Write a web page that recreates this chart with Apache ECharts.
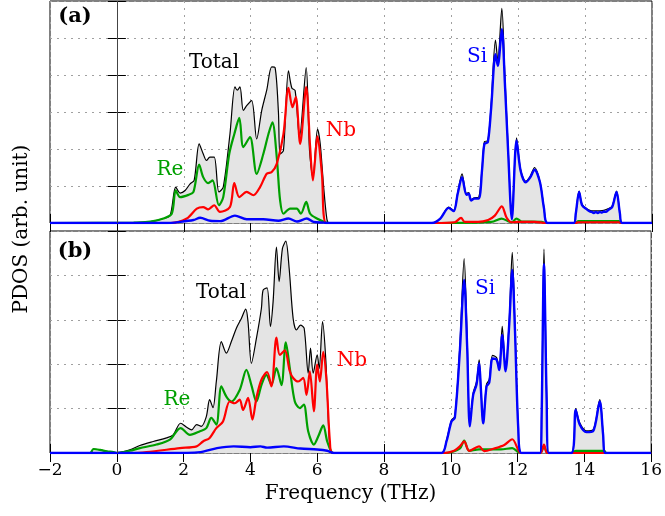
<!DOCTYPE html>
<html><head><meta charset="utf-8">
<script src="https://cdn.jsdelivr.net/npm/echarts@6/dist/echarts.min.js"></script>
<style>html,body{margin:0;padding:0;background:#fff}#c{width:665px;height:516px}</style>
</head><body><div id="c"></div>
<script>
// ---------- data (frequency THz, PDOS arb. unit) ----------
const xMin = -2, xMax = 16, xStep = 2;
const yMaxA = 6, yMaxB = 5;

// Panel (a)
const aTotal = [[-2,0],[0.3,0],[0.6,0.01],[1.0,0.04],[1.2,0.07],[1.39,0.12],[1.59,0.2],[1.76,0.97],[1.89,0.81],[2.04,0.88],[2.19,1.06],[2.31,1.15],[2.46,2.14],[2.58,1.87],[2.68,1.69],[2.78,1.78],[2.91,1.78],[3.05,0.84],[3.18,0.97],[3.38,2.4],[3.53,3.68],[3.6,3.59],[3.68,3.68],[3.78,3.04],[3.88,3.17],[4.03,3.31],[4.18,2.27],[4.33,3.04],[4.48,3.59],[4.63,4.22],[4.73,4.2],[4.83,3.0],[4.88,1.87],[4.98,1.96],[5.13,4.11],[5.23,3.65],[5.33,3.58],[5.46,2.32],[5.66,4.2],[5.76,1.96],[5.86,1.24],[6.0,2.54],[6.08,2.14],[6.18,1.0],[6.28,0.1],[6.35,0],[9.42,0],[9.67,0.12],[9.92,0.43],[10.07,0.34],[10.19,0.82],[10.32,1.33],[10.45,0.8],[10.52,0.82],[10.59,0.63],[10.69,0.68],[10.82,0.7],[10.92,1.5],[10.99,2.2],[11.09,2.22],[11.19,3.2],[11.32,4.94],[11.39,4.4],[11.51,5.8],[11.6,4.0],[11.7,2.0],[11.81,0.12],[11.95,2.3],[12.07,1.45],[12.22,1.13],[12.35,1.25],[12.49,1.5],[12.65,1.12],[12.77,0.43],[12.88,0],[13.66,0],[13.72,0.25],[13.82,0.86],[13.91,0.5],[14.06,0.38],[14.2,0.33],[14.32,0.33],[14.44,0.33],[14.56,0.34],[14.7,0.39],[14.81,0.46],[14.94,0.86],[15.04,0.28],[15.11,0],[16,0]];
const aRe = [[-2,0],[0.5,0.01],[1.0,0.04],[1.39,0.12],[1.64,0.25],[1.76,0.88],[1.89,0.7],[2.14,0.76],[2.29,0.84],[2.46,1.58],[2.58,1.24],[2.73,1.08],[2.86,1.15],[3.05,0.48],[3.18,0.7],[3.36,1.87],[3.51,2.4],[3.66,2.84],[3.78,2.05],[3.98,2.32],[4.18,1.33],[4.38,1.87],[4.53,2.4],[4.65,2.72],[4.78,1.78],[4.88,0.61],[4.98,0.25],[5.18,0.39],[5.38,0.39],[5.5,0.25],[5.66,0.57],[5.78,0.25],[5.98,0.12],[6.23,0.02],[6.35,0],[9.5,0],[11.2,0.03],[11.5,0.12],[11.7,0.05],[11.8,0.02],[11.95,0.12],[12.1,0.04],[12.7,0.03],[12.85,0],[13.7,0],[13.8,0.05],[15.0,0.05],[15.1,0],[16,0]];
const aNb = [[-2,0],[1.6,0],[2.09,0.12],[2.39,0.39],[2.58,0.43],[2.73,0.37],[2.91,0.48],[3.08,0.3],[3.38,0.43],[3.51,1.08],[3.66,0.7],[3.88,0.84],[4.08,0.75],[4.28,0.97],[4.48,1.33],[4.63,1.38],[4.78,1.6],[4.98,2.4],[5.13,3.65],[5.25,3.13],[5.35,3.4],[5.48,2.14],[5.66,3.67],[5.78,2.03],[5.86,1.15],[6.0,2.34],[6.13,1.33],[6.26,0],[9.5,0],[10.1,0.02],[10.29,0.14],[10.4,0.03],[10.8,0.03],[11.1,0.08],[11.3,0.2],[11.51,0.45],[11.65,0.15],[11.8,0.02],[12.0,0.03],[12.5,0.03],[12.8,0],[13.7,0],[13.8,0.02],[15.0,0.02],[15.1,0],[16,0]];
const aSi = [[-2,0],[1.5,0],[1.89,0.03],[2.29,0.08],[2.49,0.14],[2.79,0.06],[3.09,0.05],[3.53,0.2],[3.88,0.1],[4.38,0.1],[4.83,0.06],[5.13,0.12],[5.38,0.04],[5.68,0.12],[5.88,0.03],[6.18,0.01],[6.3,0],[9.42,0],[9.67,0.12],[9.92,0.41],[10.07,0.32],[10.19,0.79],[10.32,1.24],[10.45,0.76],[10.52,0.79],[10.59,0.61],[10.69,0.66],[10.82,0.66],[10.92,1.45],[10.99,2.14],[11.09,2.18],[11.19,3.1],[11.32,4.56],[11.39,4.25],[11.51,5.24],[11.6,3.8],[11.7,1.9],[11.81,0.1],[11.95,2.23],[12.07,1.42],[12.22,1.1],[12.35,1.22],[12.49,1.44],[12.65,1.1],[12.77,0.4],[12.88,0],[13.66,0],[13.72,0.25],[13.82,0.84],[13.91,0.48],[14.06,0.36],[14.14,0.31],[14.2,0.3],[14.26,0.27],[14.32,0.3],[14.38,0.27],[14.44,0.3],[14.5,0.28],[14.56,0.31],[14.62,0.3],[14.7,0.36],[14.81,0.43],[14.94,0.84],[15.04,0.26],[15.11,0],[16,0]];

// Panel (b)
const bTotal = [[-2,0],[-0.8,0],[-0.7,0.09],[-0.5,0.07],[-0.3,0.04],[-0.1,0.02],[0,0.01],[0.39,0.07],[0.69,0.17],[1.09,0.26],[1.49,0.34],[1.69,0.41],[1.91,0.67],[2.09,0.58],[2.24,0.52],[2.39,0.64],[2.53,0.6],[2.68,0.82],[2.78,1.2],[2.88,1.02],[2.98,1.61],[3.13,2.51],[3.28,2.25],[3.43,2.51],[3.58,2.81],[3.73,3.03],[3.86,3.24],[3.93,2.95],[4.03,2.02],[4.18,2.58],[4.33,3.26],[4.38,3.67],[4.5,3.72],[4.6,2.85],[4.68,3.41],[4.78,4.64],[4.86,3.86],[4.96,4.61],[5.06,4.77],[5.16,4.16],[5.28,3.03],[5.38,2.77],[5.5,2.88],[5.61,2.81],[5.73,1.8],[5.8,2.36],[5.88,1.8],[6.0,2.21],[6.06,1.9],[6.16,2.96],[6.26,2.07],[6.38,0.11],[6.48,0],[9.72,0],[9.87,0.28],[10.02,0.74],[10.12,0.82],[10.27,2.4],[10.4,4.38],[10.49,2.6],[10.57,0.62],[10.67,1.35],[10.77,1.6],[10.85,2.1],[10.9,1.5],[10.97,0.7],[11.07,1.55],[11.15,1.65],[11.25,2.2],[11.37,2.15],[11.45,1.9],[11.54,2.85],[11.64,1.9],[11.75,3.0],[11.84,4.52],[11.92,2.9],[12.02,0.6],[12.12,0],[12.67,0],[12.72,0.9],[12.79,4.59],[12.87,1.3],[12.93,0],[13.61,0],[13.74,1.0],[13.86,0.68],[14.06,0.5],[14.26,0.52],[14.46,1.2],[14.56,0.45],[14.63,0],[16,0]];
const bRe = [[-2,0],[-0.8,0],[-0.7,0.09],[-0.5,0.07],[-0.3,0.04],[-0.1,0.02],[0,0],[0.39,0.05],[0.69,0.11],[1.19,0.19],[1.59,0.3],[1.91,0.56],[2.19,0.41],[2.49,0.49],[2.68,0.56],[2.83,0.79],[2.98,0.64],[3.13,1.5],[3.28,1.27],[3.43,1.16],[3.68,1.42],[3.88,1.87],[4.03,1.53],[4.18,1.16],[4.33,1.53],[4.48,1.76],[4.63,1.54],[4.78,1.91],[4.93,1.53],[5.06,2.49],[5.18,1.91],[5.33,1.16],[5.48,1.01],[5.6,1.09],[5.73,0.49],[5.9,0.19],[6.03,0.37],[6.18,0.62],[6.3,0.26],[6.43,0.02],[6.5,0],[9.8,0],[10.27,0.1],[10.4,0.28],[10.55,0.05],[10.85,0.08],[11.5,0.08],[11.84,0.11],[12.02,0.02],[12.1,0],[12.68,0],[12.79,0.15],[12.9,0],[13.6,0],[13.75,0.05],[14.6,0.05],[14.65,0],[16,0]];
const bNb = [[-2,0],[0.5,0],[0.89,0.02],[1.89,0.11],[2.39,0.15],[2.58,0.26],[2.78,0.34],[2.98,0.56],[3.18,0.71],[3.38,1.16],[3.53,1.12],[3.68,1.2],[3.78,0.97],[3.93,1.24],[4.06,0.75],[4.18,1.24],[4.33,1.65],[4.5,1.82],[4.63,1.5],[4.78,2.6],[4.88,2.21],[5.03,2.31],[5.18,1.84],[5.28,1.69],[5.43,1.61],[5.58,1.69],[5.68,1.31],[5.78,1.84],[5.9,0.94],[6.0,1.99],[6.08,1.61],[6.18,2.28],[6.28,1.61],[6.38,0.26],[6.46,0],[9.8,0],[10.1,0.05],[10.27,0.15],[10.4,0.26],[10.55,0.05],[10.85,0.15],[11.0,0.04],[11.3,0.1],[11.6,0.18],[11.84,0.31],[12.02,0.07],[12.1,0],[12.68,0],[12.79,0.19],[12.9,0],[16,0]];
const bSi = [[-2,0],[1.5,0],[2.5,0.02],[3.0,0.11],[3.5,0.15],[4.0,0.13],[4.3,0.15],[4.5,0.12],[5.0,0.15],[5.5,0.1],[6.0,0.08],[6.3,0.05],[6.5,0],[9.72,0],[9.87,0.26],[10.02,0.71],[10.12,0.79],[10.27,2.28],[10.4,3.9],[10.49,2.4],[10.57,0.6],[10.67,1.31],[10.77,1.54],[10.85,2.02],[10.9,1.45],[10.97,0.67],[11.07,1.5],[11.15,1.58],[11.25,2.13],[11.37,2.1],[11.45,1.87],[11.54,2.66],[11.64,1.84],[11.75,2.9],[11.84,4.12],[11.92,2.8],[12.02,0.56],[12.12,0],[12.67,0],[12.72,0.85],[12.79,4.25],[12.87,1.2],[12.93,0],[13.61,0],[13.74,0.97],[13.86,0.64],[14.06,0.47],[14.26,0.49],[14.46,1.16],[14.56,0.42],[14.63,0],[16,0]];

// ---------- styling ----------
const FONT = 'DejaVu Serif';
const C_TOTAL = '#000000', C_RE = '#00a000', C_NB = '#ff0000', C_SI = '#0000ff', C_FILL = '#e4e4e4';
const dotted = {color:'#a0a0a0', width:1, type:[2,5]};

function xAx(gi, pos, withLabels) {
  const ax = {
    type:'value', gridIndex:gi, position:pos, min:xMin, max:xMax, interval:xStep,
    axisLine:{show:false},
    axisTick:{show:true, inside:true, length:9, lineStyle:{color:'#000', width:1}},
    axisLabel:{show:withLabels, fontFamily:FONT, fontSize:17, color:'#000', margin:9,
      formatter: v => String(v).replace('-', '\u2212')},
    splitLine:{show: pos === 'bottom', lineStyle:dotted}
  };
  if (withLabels) {
    ax.name = 'Frequency (THz)';
    ax.nameLocation = 'middle';
    ax.nameGap = 31;
    ax.nameTextStyle = {fontFamily:FONT, fontSize:20, color:'#000'};
  }
  return ax;
}
function yAx(gi, pos, ymax) {
  return {
    type:'value', gridIndex:gi, position:pos, min:0, max:ymax, interval:1,
    axisLine:{show:false},
    axisTick:{show:true, inside:true, length:9, lineStyle:{color:'#000', width:1}},
    axisLabel:{show:false},
    splitLine:{show: pos === 'left', lineStyle:dotted}
  };
}
function lineSeries(data, gi, color, width, withArea) {
  const s = {
    type:'line', data:data, xAxisIndex:gi, yAxisIndex:gi, showSymbol:false, symbol:'none',
    smooth:0.3, lineStyle:{color:color, width:width}, animation:false, silent:true, z:withArea?2:3
  };
  if (withArea) {
    s.areaStyle = {color:C_FILL, opacity:1};
    s.markLine = {silent:true, symbol:'none', label:{show:false}, animation:false,
      lineStyle:{color:'#444', width:1, type:'solid'}, data:[{xAxis:0}]};
  }
  return s;
}
function txt(x, y, text, color, size, bold, rot) {
  return {type:'text', x:x, y:y, rotation:rot||0, z:100,
    style:{text:text, fill:color, font:(bold?'bold ':'') + size + 'px "' + FONT + '"', align:'center', verticalAlign:'middle'}};
}

const chart = echarts.init(document.getElementById('c'), null, {renderer:'canvas'});
chart.setOption({
  animation:false,
  backgroundColor:'#fff',
  grid:[
    {left:50, top:1, width:602, height:222, show:true, borderColor:'#000', borderWidth:1},
    {left:50, top:231, width:602, height:222, show:true, borderColor:'#000', borderWidth:1}
  ],
  xAxis:[xAx(0,'bottom',false), xAx(1,'bottom',true), xAx(0,'top',false), xAx(1,'top',false)],
  yAxis:[yAx(0,'left',yMaxA), yAx(1,'left',yMaxB), yAx(0,'right',yMaxA), yAx(1,'right',yMaxB)],
  series:[
    lineSeries(aTotal,0,C_TOTAL,1.2,true),
    lineSeries(aRe,0,C_RE,2.2,false),
    lineSeries(aNb,0,C_NB,2.2,false),
    lineSeries(aSi,0,C_SI,2.4,false),
    lineSeries(bTotal,1,C_TOTAL,1.2,true),
    lineSeries(bRe,1,C_RE,2.2,false),
    lineSeries(bNb,1,C_NB,2.2,false),
    lineSeries(bSi,1,C_SI,2.4,false)
  ],
  graphic:[
    txt(75,17,'(a)','#000',21,true),
    txt(75,252,'(b)','#000',21,true),
    txt(214,63,'Total','#000',20),
    txt(170,170,'Re',C_RE,20),
    txt(341,131,'Nb',C_NB,20),
    txt(477,57,'Si',C_SI,20),
    txt(221,293,'Total','#000',20),
    txt(177,400,'Re',C_RE,20),
    txt(352,361,'Nb',C_NB,20),
    txt(485,289,'Si',C_SI,20),
    txt(22,229,'PDOS (arb. unit)','#000',20,false,Math.PI/2)
  ]
});
</script></body></html>
